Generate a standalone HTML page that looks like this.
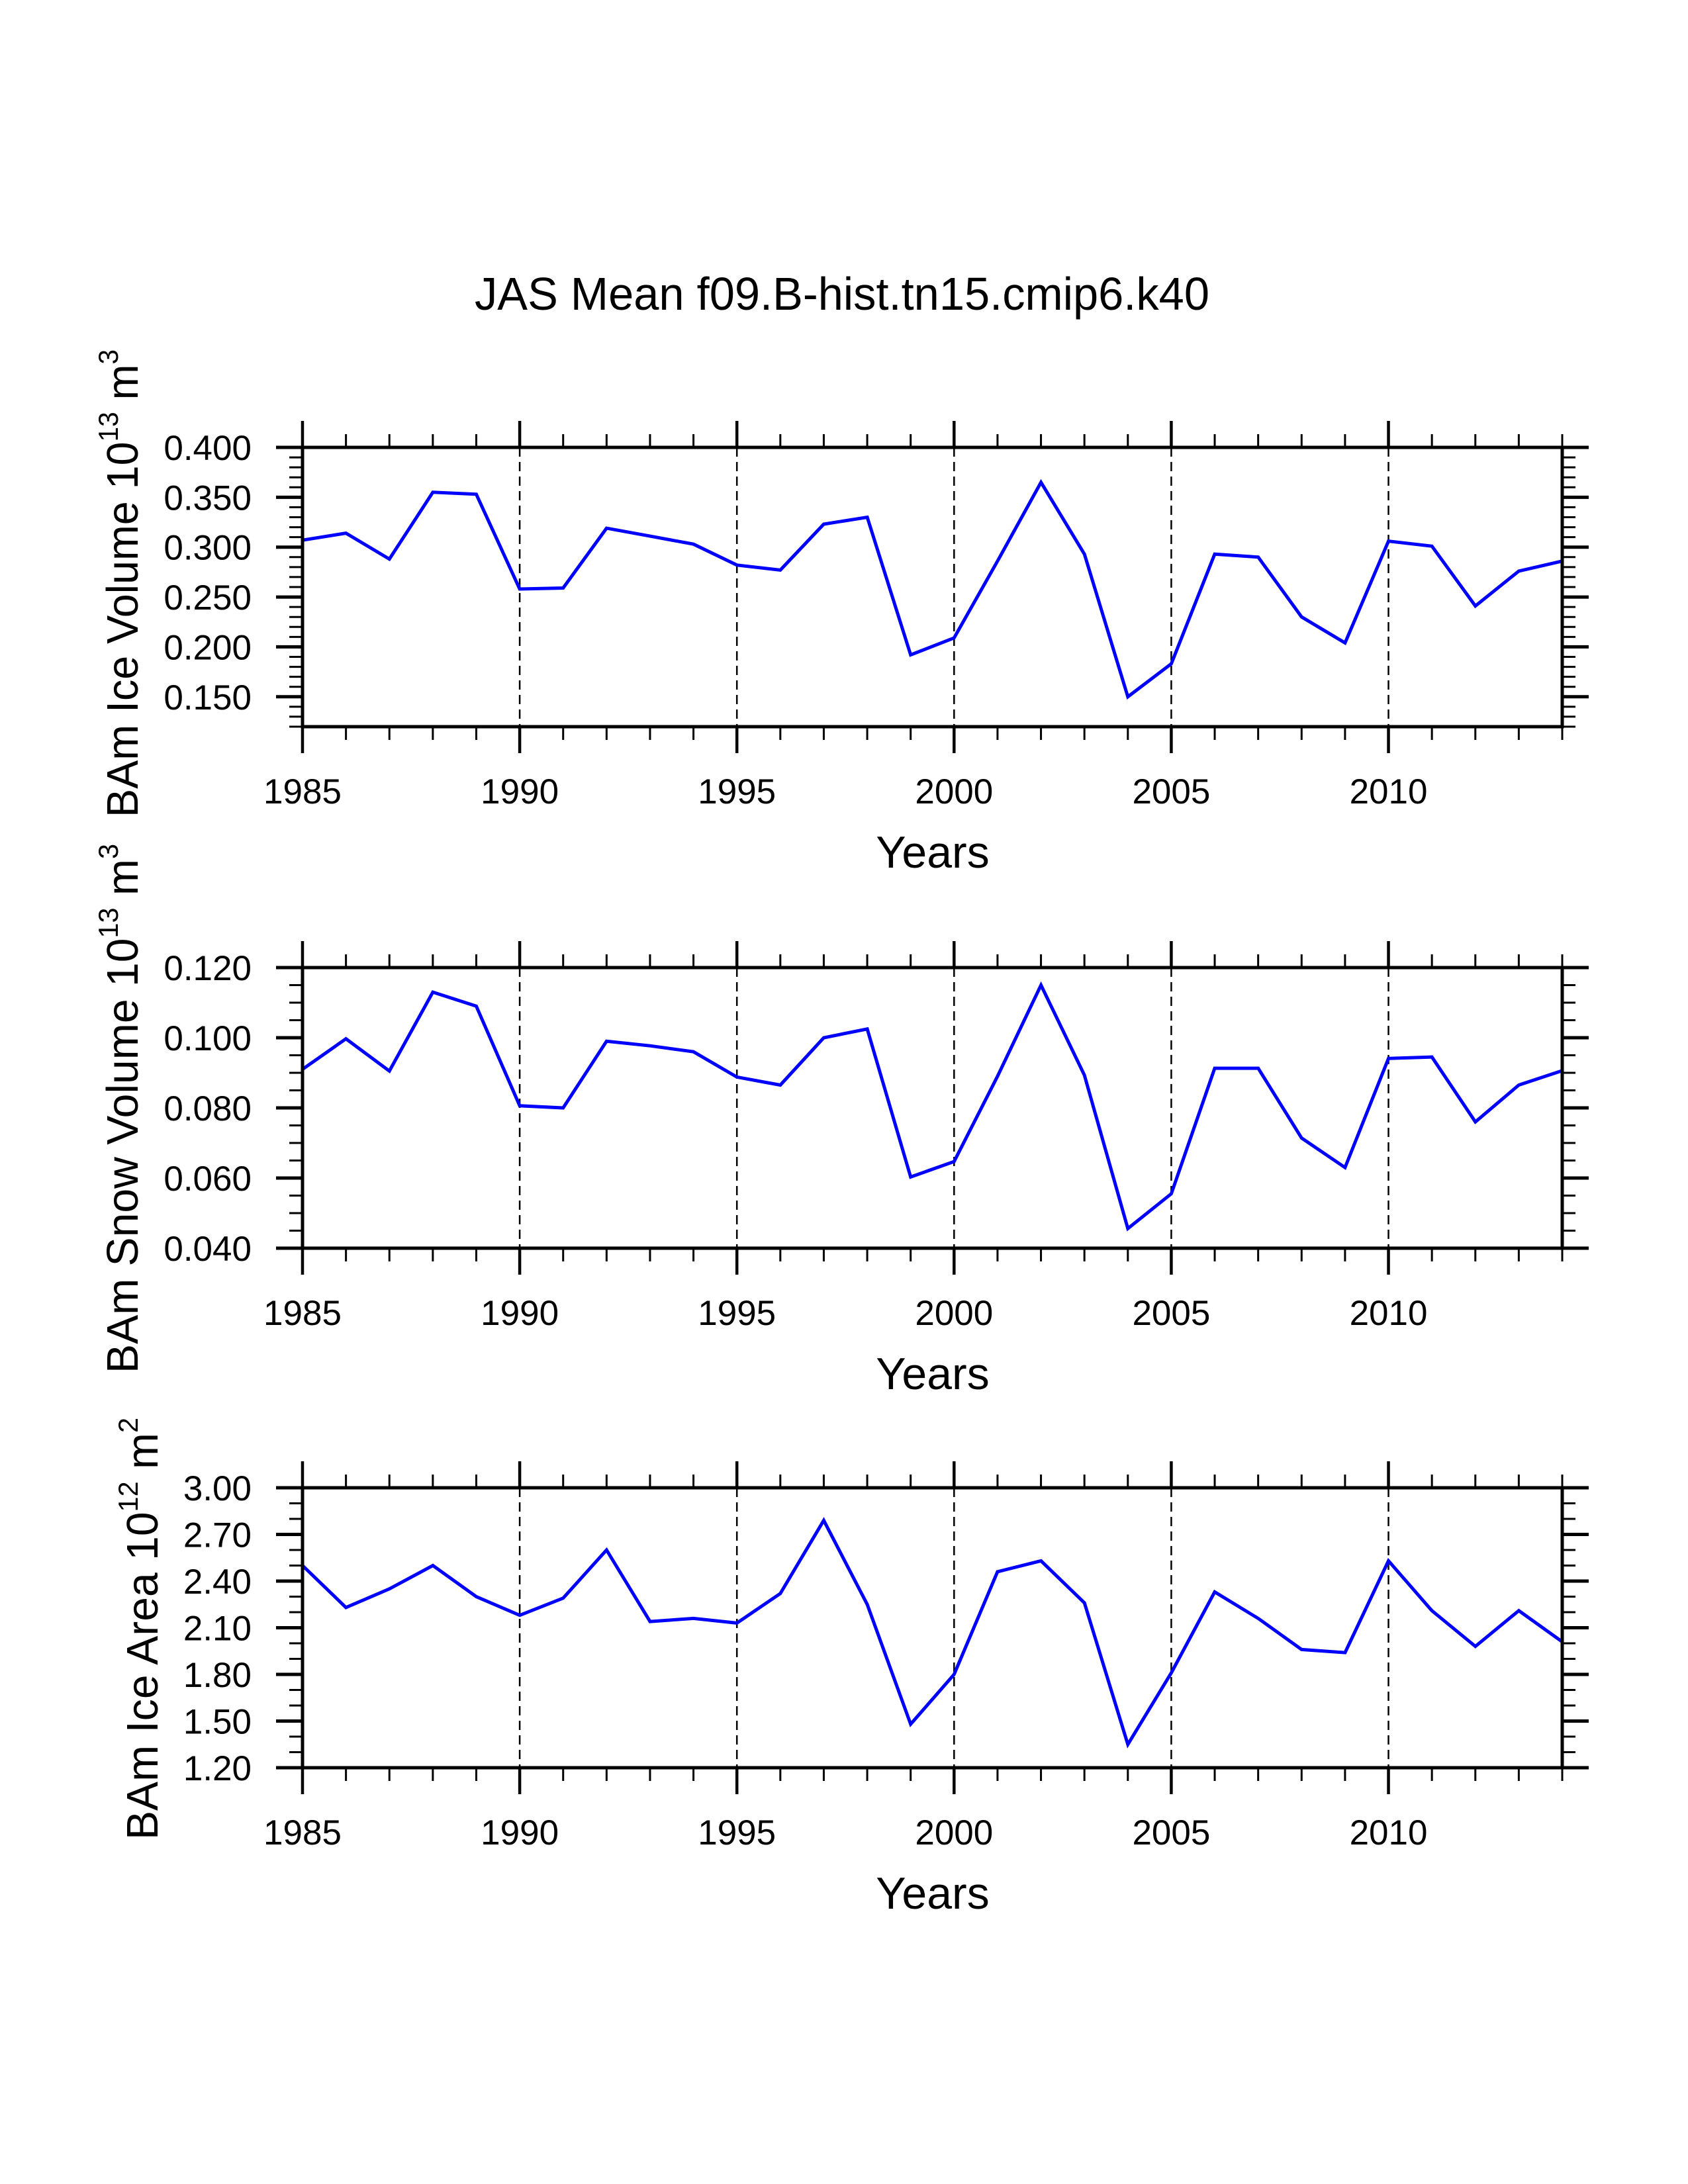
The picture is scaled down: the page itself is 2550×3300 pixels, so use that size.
<!DOCTYPE html>
<html><head><meta charset="utf-8"><style>
html,body{margin:0;padding:0;background:#fff;}
svg{display:block;font-family:"Liberation Sans",Arial,sans-serif;}
</style></head><body>
<svg id="chart" xmlns="http://www.w3.org/2000/svg" width="2550" height="3300" viewBox="0 0 2550 3300">
<text x="1272" y="468" font-size="70" text-anchor="middle" textLength="1110" lengthAdjust="spacingAndGlyphs">JAS Mean f09.B-hist.tn15.cmip6.k40</text>
</svg>
<script>
const years = [1985,1986,1987,1988,1989,1990,1991,1992,1993,1994,1995,1996,1997,1998,1999,2000,2001,2002,2003,2004,2005,2006,2007,2008,2009,2010,2011,2012,2013,2014];
const iceVolume = [0.307,0.314,0.288,0.355,0.353,0.258,0.259,0.319,0.311,0.303,0.282,0.277,0.323,0.330,0.192,0.209,0.286,0.365,0.293,0.150,0.183,0.293,0.290,0.230,0.204,0.306,0.301,0.241,0.276,0.286];
const snowVolume = [0.091,0.0997,0.0905,0.113,0.109,0.0806,0.080,0.099,0.0977,0.096,0.0888,0.0865,0.100,0.1025,0.0603,0.0647,0.089,0.115,0.0893,0.0456,0.0555,0.0913,0.0913,0.0714,0.063,0.0941,0.0945,0.076,0.0865,0.0906];
const iceArea = [2.50,2.23,2.35,2.50,2.30,2.18,2.29,2.60,2.14,2.16,2.13,2.32,2.79,2.25,1.48,1.80,2.46,2.53,2.26,1.35,1.81,2.33,2.16,1.96,1.94,2.53,2.21,1.98,2.21,2.01];
const xTickLabels = [1985,1990,1995,2000,2005,2010];
const iceVolTicks = [0.150,0.200,0.250,0.300,0.350,0.400];
const snowVolTicks = [0.040,0.060,0.080,0.100,0.120];
const iceAreaTicks = [1.20,1.50,1.80,2.10,2.40,2.70,3.00];

const NS="http://www.w3.org/2000/svg";
const svg=document.getElementById('chart');
const X0=457,X1=2360;
function mk(tag,attrs,parent){const e=document.createElementNS(NS,tag);for(const k in attrs)e.setAttribute(k,attrs[k]);(parent||svg).appendChild(e);return e;}
function xs(y){return X0+(y-1985)/(2014-1985)*(X1-X0);}

const panels=[
 {name:'ice-volume',top:676,h:422,min:0.12,max:0.40,data:iceVolume,ticks:iceVolTicks,dec:3,minor:0.01,titleX:208,titleY:1235,tlen:707,
  title:['BAm Ice Volume 10','13',' m','3']},
 {name:'snow-volume',top:1462,h:424,min:0.04,max:0.12,data:snowVolume,ticks:snowVolTicks,dec:3,minor:0.005,titleX:208,titleY:2075,tlen:800,
  title:['BAm Snow Volume 10','13',' m','3']},
 {name:'ice-area',top:2248,h:423,min:1.2,max:3.0,data:iceArea,ticks:iceAreaTicks,dec:2,minor:0.1,titleX:238,titleY:2780,tlen:638,
  title:['BAm Ice Area 10','12',' m','2']}
];

panels.forEach(p=>{
  const g=mk('g',{});
  
  
  const ys=v=>p.top+p.h-(v-p.min)/(p.max-p.min)*p.h;
  const bot=p.top+p.h;
  [1990,1995,2000,2005,2010].forEach(yr=>{
    const l=mk('line',{x1:xs(yr),x2:xs(yr),y1:p.top,y2:bot,stroke:'#000','stroke-width':2.5,'stroke-dasharray':'14,8'},g);
    
    
  });
  years.forEach(yr=>{
    const major=(yr%5===0);const len=major?40:20;const w=major?4.5:3;
    mk('line',{x1:xs(yr),x2:xs(yr),y1:p.top,y2:p.top-len,stroke:'#000','stroke-width':w},g);
    mk('line',{x1:xs(yr),x2:xs(yr),y1:bot,y2:bot+len,stroke:'#000','stroke-width':w},g);
  });
  const n=Math.round((p.max-p.min)/p.minor);
  for(let i=0;i<=n;i++){
    const v=p.min+i*p.minor;const y=ys(v);
    mk('line',{x1:X0,x2:X0-20,y1:y,y2:y,stroke:'#000','stroke-width':3},g);
    mk('line',{x1:X1,x2:X1+20,y1:y,y2:y,stroke:'#000','stroke-width':3},g);
  }
  p.ticks.forEach(v=>{
    const y=ys(v);
    mk('line',{x1:X0,x2:X0-40,y1:y,y2:y,stroke:'#000','stroke-width':5},g);
    mk('line',{x1:X1,x2:X1+40,y1:y,y2:y,stroke:'#000','stroke-width':5},g);
    const t=mk('text',{x:380,y:y+19,'font-size':53,'text-anchor':'end'},g);
    
    
    t.textContent=v.toFixed(p.dec);
  });
  xTickLabels.forEach(yr=>{
    const t=mk('text',{x:xs(yr),y:bot+116,'font-size':53,'text-anchor':'middle'},g);
    
    
    t.textContent=yr;
  });
  const xt=mk('text',{x:1409,y:bot+213,'font-size':68,'text-anchor':'middle'},g);
  
  
  xt.textContent='Years';
  const yt=mk('text',{x:0,y:0,'font-size':67,textLength:p.tlen,lengthAdjust:'spacingAndGlyphs',transform:`translate(${p.titleX},${p.titleY}) rotate(-90)`},g);
  
  
  const parts=p.title;
  const s1=mk('tspan',{},yt);s1.textContent=parts[0];
  const s2=mk('tspan',{'font-size':42,dy:-30},yt);s2.textContent=parts[1];
  const s3=mk('tspan',{dy:30},yt);s3.textContent=parts[2];
  const s4=mk('tspan',{'font-size':42,dy:-30},yt);s4.textContent=parts[3];
  const pts=p.data.map((v,i)=>xs(years[i]).toFixed(1)+','+ys(v).toFixed(1)).join(' ');
  const pl=mk('polyline',{points:pts,fill:'none',stroke:'#0000ff','stroke-width':5,'stroke-linejoin':'miter'},g);
  
  
  const fr=mk('rect',{x:X0,y:p.top,width:X1-X0,height:p.h,fill:'none',stroke:'#000','stroke-width':5},g);
  
  
});
</script>
</body></html>
